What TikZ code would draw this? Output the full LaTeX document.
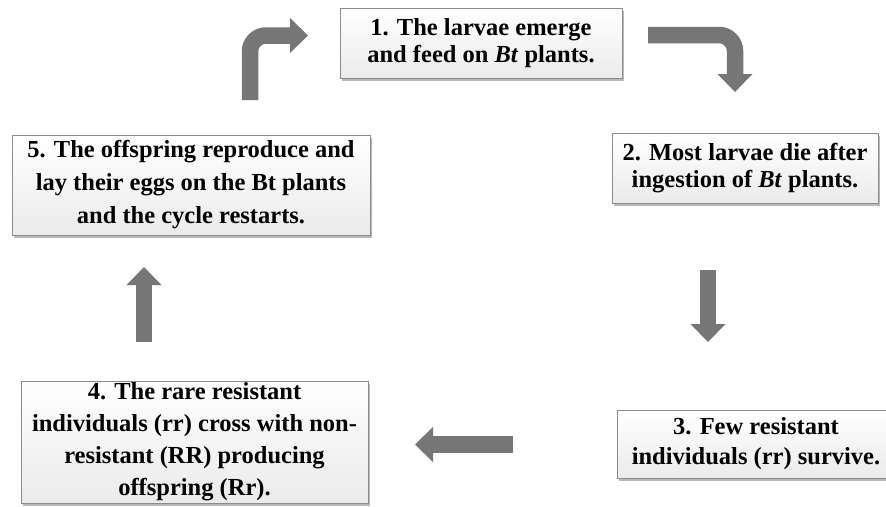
\documentclass[tikz,border=0pt]{standalone}
\usepackage{fontspec}
\setmainfont{Liberation Serif}
\usepackage{tikz}
\usetikzlibrary{arrows.meta,shadows}
\definecolor{arrowgray}{RGB}{118,118,118}
\definecolor{boxedge}{RGB}{140,140,140}
\tikzset{%
  % Specifications for style of nodes:
            base/.style = {rectangle, draw=boxedge, line width=0.9pt,
                           top color=white, bottom color=gray!16,
                           drop shadow={shadow xshift=2pt, shadow yshift=-3pt,
                                        fill=black!55},
                           inner sep=0pt, align=center,
                           font=\fontsize{24.5}{27}\selectfont\bfseries},
             box/.style = {base},
       arrowline/.style = {draw=arrowgray, line width=16.5pt,
                           -{Triangle[length=18pt,width=35pt,line width=0pt 0]}}
}
\begin{document}
\begin{tikzpicture}[x=1pt, y=-1pt]
  \useasboundingbox[fill=white] (0,0) rectangle (886,506);
  % Specification of nodes (position, etc.)
  \node (emerge)  [box, minimum width=282pt, minimum height=70pt] at (481,43)
        {1. The larvae emerge\\and feed on \textit{Bt} plants.};
  \node (die)     [box, minimum width=266pt, minimum height=70pt] at (745,168)
        {2. Most larvae die after\\ingestion of \textit{Bt} plants.};
  \node (survive) [box, minimum width=278pt, minimum height=68pt,
                   font=\fontsize{24.5}{30}\selectfont\bfseries] at (756,444)
        {3. Few resistant\\individuals (rr) survive.};
  \node (cross)   [box, minimum width=347pt, minimum height=122pt,
                   font=\fontsize{24.5}{32}\selectfont\bfseries] at (194.5,442)
        {4. The rare resistant\\individuals (rr) cross with non-\\resistant (RR) producing\\offspring (Rr).};
  \node (restart) [box, minimum width=358pt, minimum height=100pt,
                   font=\fontsize{24.5}{33}\selectfont\bfseries] at (191,185)
        {5. The offspring reproduce and\\lay their eggs on the Bt plants\\and the cycle restarts.};

  % arrow ends
  \coordinate (restartOut) at (250,100);
  \coordinate (emergeIn)   at (308,35.5);
  \coordinate (emergeOut)  at (648,35);
  \coordinate (dieIn)      at (735,92);
  \coordinate (dieOut)     at (708,270);
  \coordinate (surviveIn)  at (708,342);
  \coordinate (surviveOut) at (513,444.5);
  \coordinate (crossIn)    at (415,444.5);
  \coordinate (crossOut)   at (144,342);
  \coordinate (restartIn)  at (144,267);

  \draw[arrowline, rounded corners=16pt] (restartOut) |- (emergeIn);
  \draw[arrowline, rounded corners=16pt] (emergeOut) -| (dieIn);
  \draw[arrowline] (dieOut) -- (surviveIn);
  \draw[arrowline] (surviveOut) -- (crossIn);
  \draw[arrowline] (crossOut) -- (restartIn);
\end{tikzpicture}
\end{document}
